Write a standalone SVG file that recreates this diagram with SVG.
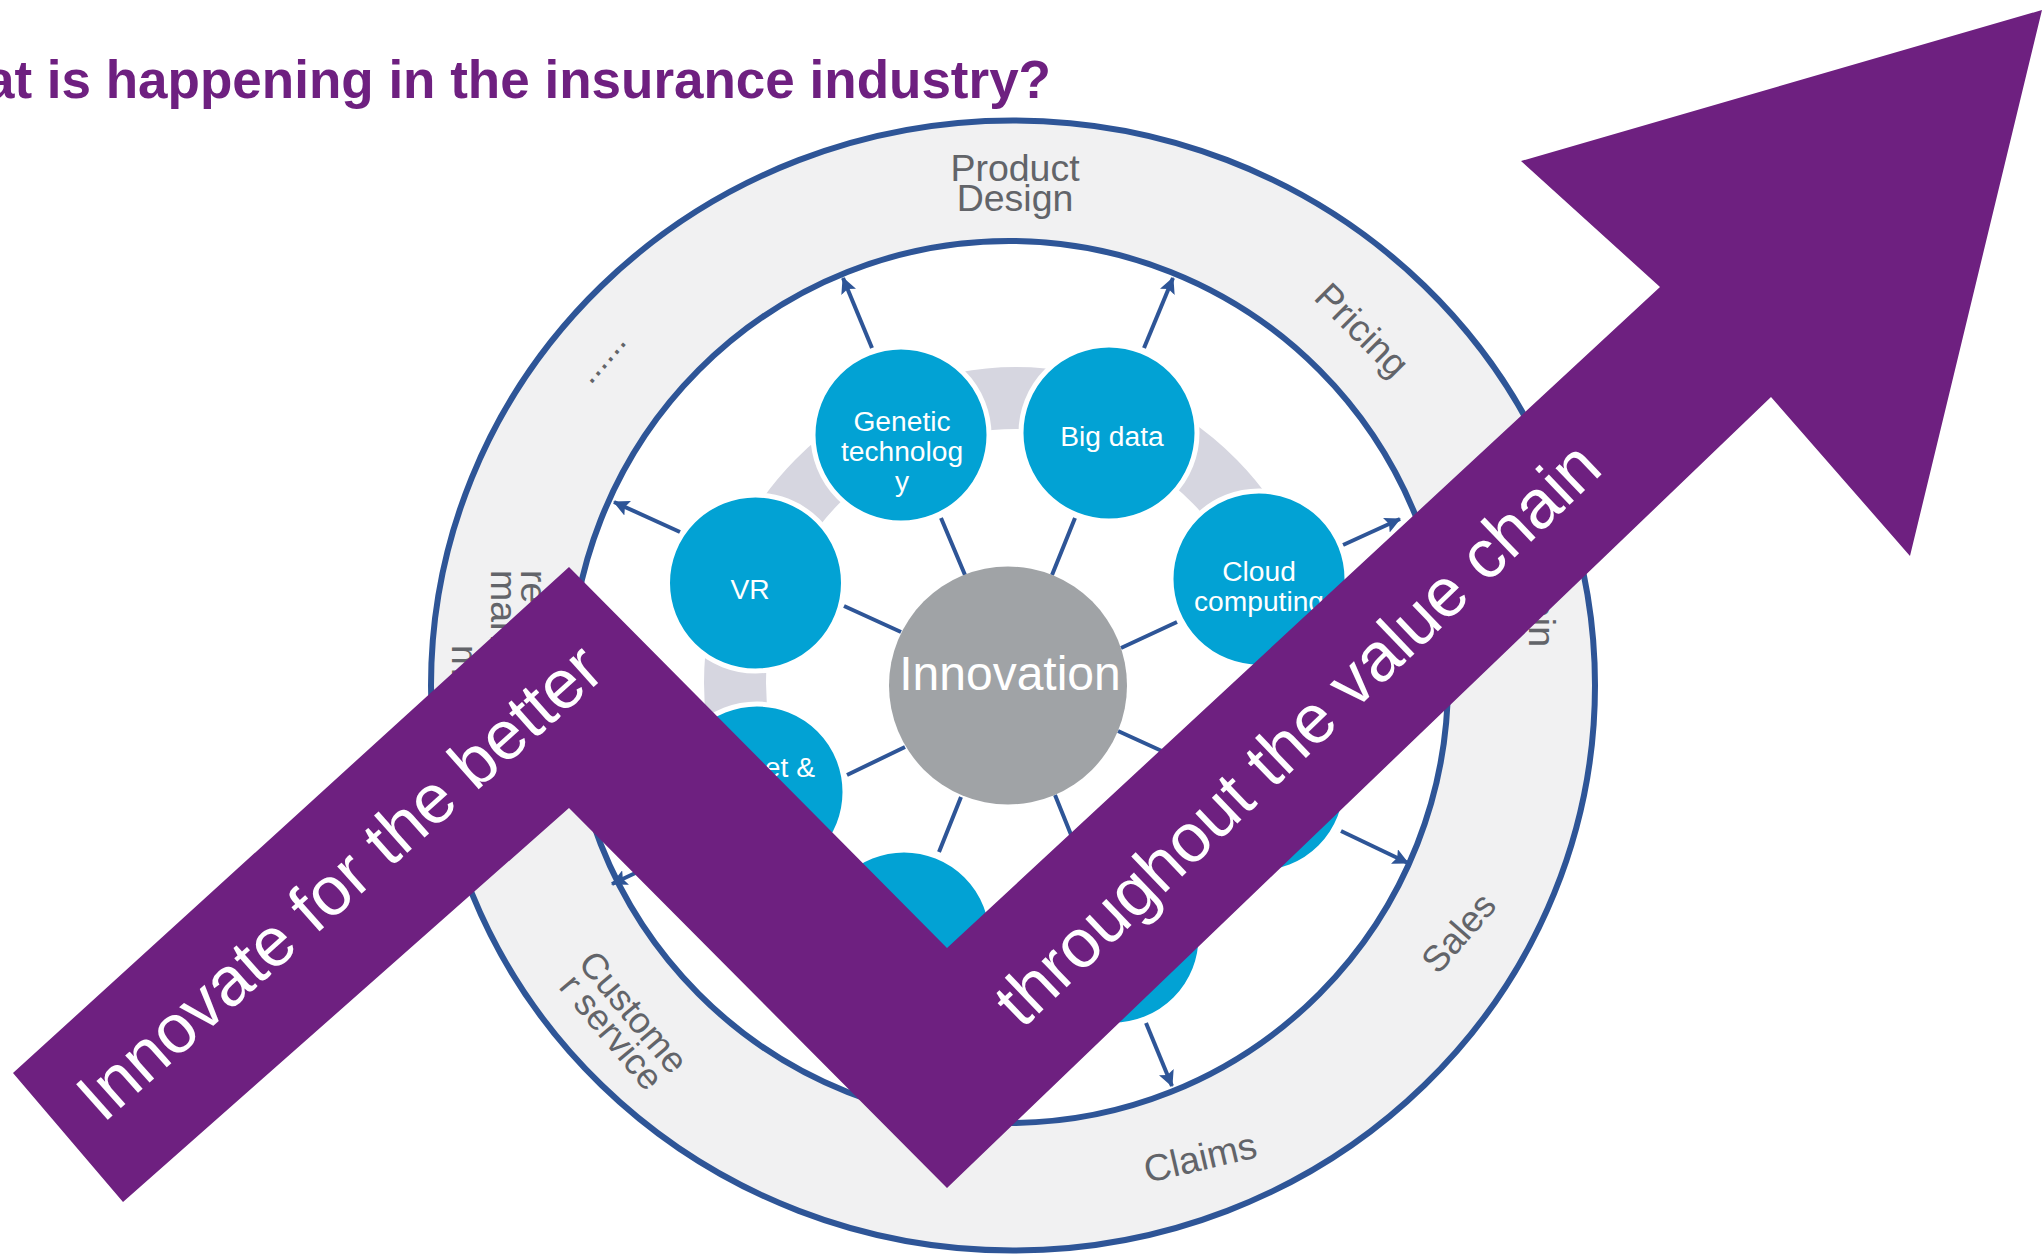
<svg xmlns="http://www.w3.org/2000/svg" width="2042" height="1254" viewBox="0 0 2042 1254">
<style>
text{font-family:"Liberation Sans",Arial,sans-serif}
.stage{font-size:37.500px;fill:#626469;text-anchor:middle}
.small{font-size:36.500px}
.node{fill:#02a2d4;stroke:#fff;stroke-width:5}
.lbl{font-size:28.200px;fill:#fff;text-anchor:middle}
.spoke{stroke:#2e5597;stroke-width:4;fill:none}
.out{stroke:#2e5597;stroke-width:4;fill:none;marker-end:url(#ah)}
.big{font-size:69px;fill:#fff}
</style>
<defs>
<marker id="ah" markerUnits="userSpaceOnUse" markerWidth="17" markerHeight="16" refX="15" refY="8" orient="auto"><path d="M0 0L16 8L0 16L3 8Z" fill="#2e5597"/></marker>
</defs>
<rect width="2042" height="1254" fill="#fff"/>
<g id="title"><text x="1051" y="98" text-anchor="end" font-size="53" font-weight="700" fill="#6e2080">What is happening in the insurance industry?</text></g>
<g id="value-chain-ring">
<ellipse cx="1013" cy="685.500" rx="582" ry="565" fill="#f1f1f2" stroke="#2e5597" stroke-width="6"/>
<ellipse cx="1009" cy="682" rx="439" ry="441" fill="#fff" stroke="#2e5597" stroke-width="6"/>
<text class="stage" x="1015" y="181">Product</text>
<text class="stage" x="1015" y="211">Design</text>
<text class="stage" transform="translate(1353 339) rotate(45)">Pricing</text>
<text class="stage" transform="translate(1529 647) rotate(90)" style="text-anchor:end">ain</text>
<text class="stage small" transform="translate(1468 941) rotate(-49)">Sales</text>
<text class="stage" transform="translate(1203 1170) rotate(-13)">Claims</text>
<text class="stage small" transform="translate(624 1020) rotate(50)">Custome</text>
<text class="stage small" transform="translate(602 1040) rotate(50)">r service</text>
<text class="stage" transform="translate(452 645) rotate(90)" style="text-anchor:start">m</text>
<text class="stage" transform="translate(491 570) rotate(90)" style="text-anchor:start">man</text>
<text class="stage" transform="translate(521 570) rotate(90)" style="text-anchor:start">re</text>
<text class="stage" style="font-size:34px" transform="translate(609 364) rotate(-49)">......</text>
</g>
<g id="band"><ellipse cx="1016" cy="683" rx="281" ry="285" fill="none" stroke="#d6d6e0" stroke-width="62"/></g>
<g id="connectors">
<path class="spoke" d="M941 518L965 575M1075 518L1052 575M844 606L901 632M1177 622L1121 648M847 775L905 747M939 852L961 797M1055 795L1078 852M1118 731L1175 757"/>
<path class="out" d="M872 348L843 278"/>
<path class="out" d="M1144 348L1173 278"/>
<path class="out" d="M680 532L614 502"/>
<path class="out" d="M1343 545L1400 519"/>
<path class="out" d="M1341 831L1408 863"/>
<path class="out" d="M1146 1023L1172 1086"/>
<path class="out" d="M680 852L612 884"/>
</g>
<g id="innovation"><circle cx="1008" cy="685.500" r="119" fill="#a0a3a6"/><text x="1010" y="690" font-size="48" fill="#fff" text-anchor="middle">Innovation</text></g>
<g id="genetic"><circle class="node" cx="901" cy="435" r="88"/><text class="lbl" x="902" y="431">Genetic</text><text class="lbl" x="902" y="461">technolog</text><text class="lbl" x="902" y="491">y</text></g>
<g id="big-data"><circle class="node" cx="1109" cy="433" r="88"/><text class="lbl" x="1112" y="446">Big data</text></g>
<g id="cloud"><circle class="node" cx="1259" cy="579" r="88"/><text class="lbl" x="1259" y="581">Cloud</text><text class="lbl" x="1259" y="611">computing</text></g>
<g id="vr"><circle class="node" cx="755.500" cy="583" r="88"/><text class="lbl" x="750" y="599">VR</text></g>
<g id="internet"><circle class="node" cx="757" cy="792" r="88"/><text class="lbl" x="815" y="777" style="text-anchor:end">et &amp;</text></g>
<g id="node-bottom-left"><circle class="node" cx="904" cy="938" r="88"/></g>
<g id="node-bottom-right"><circle class="node" cx="1113" cy="937" r="88"/></g>
<g id="node-right"><circle class="node" cx="1258" cy="785" r="88"/></g>
<g id="arrow">
<polygon points="13,1073 569,567 947,948 1660,287 1521,161 2042,10 1910,556 1771,397 947,1188 569,808 123,1202" fill="#6e2080"/>
<text class="big" transform="translate(103 1124) rotate(-41.700)">Innovate for the better</text>
<text class="big" style="font-size:68.500px" transform="translate(1022 1030) rotate(-43.800)">throughout the value chain</text>
</g>
</svg>
